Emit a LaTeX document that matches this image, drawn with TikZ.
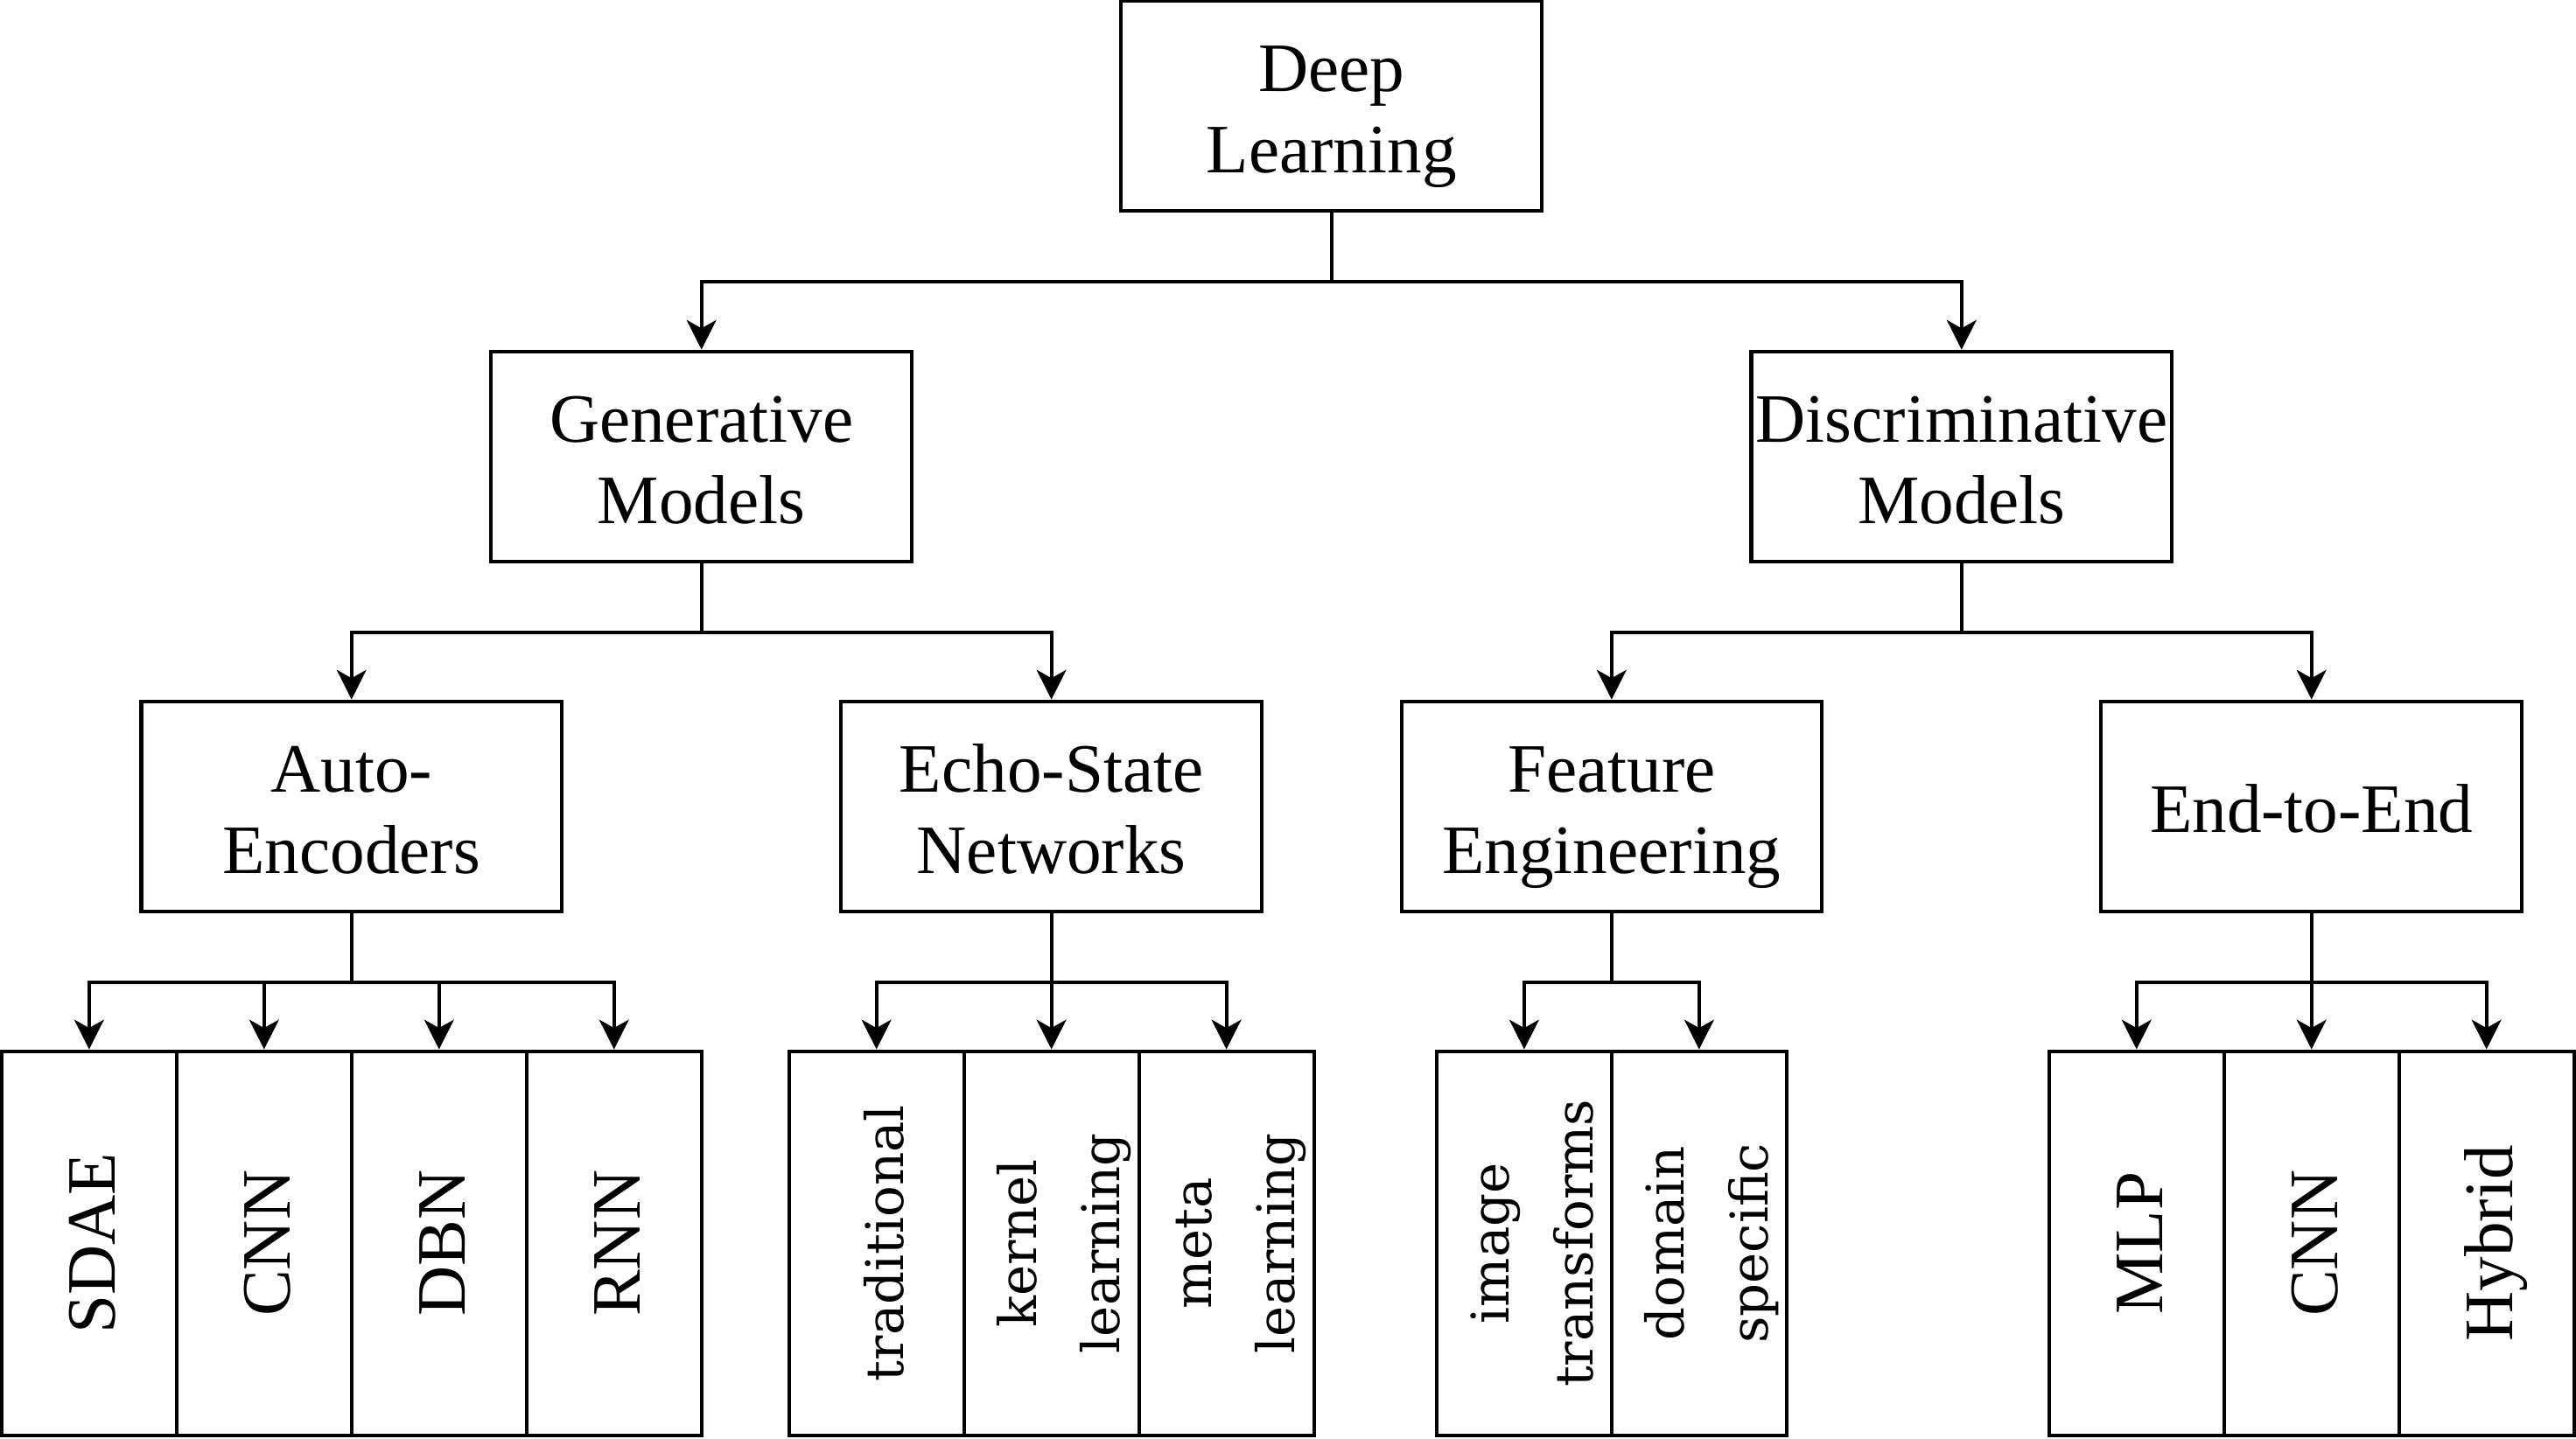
\documentclass[tikz,border=0pt]{standalone}
\usepackage{fontspec}
\setmainfont{Liberation Serif}
\newfontfamily\leaffont{DejaVu Serif}
\usepackage{tikz}
\usetikzlibrary{arrows.meta}

\newcommand{\vlabel}[1]{\makebox[0pt]{\hspace*{3.4pt}\rotatebox{90}{\begin{tabular}{@{}c@{}}#1\end{tabular}}}}

\begin{document}
\begin{tikzpicture}[
    x=1cm, y=1cm,
    box/.style={draw, line width=0.62pt, minimum width=2.56cm, minimum height=1.28cm, inner sep=0pt, align=center, text height=9.1pt, text depth=0pt, font=\fontsize{12}{14.2}\selectfont},
    two/.style={box, text height=23.3pt},
    leaf/.style={draw, line width=0.62pt, minimum width=1.065cm, minimum height=2.34cm, inner sep=0pt, font=\fontsize{12}{14.2}\selectfont},
    wleaf/.style={leaf, font=\leaffont\fontsize{9}{14.5}\selectfont},
    arr/.style={-{Stealth[length=0.18cm, width=0.18cm, inset=0.05cm]}, line width=0.62pt}
  ]
  \useasboundingbox (0,0) rectangle (15.68,8.76);

  \node[two] (dl) at (8.105,8.115) {Deep\\Learning};

  \node[two] (gen) at (4.27,5.98) {Generative\\Models};
  \node[two] (disc) at (11.94,5.98) {Discriminative\\Models};

  \node[two] (ae) at (2.14,3.85) {Auto-\\Encoders};
  \node[two] (esn) at (6.40,3.85) {Echo-State\\Networks};
  \node[two] (fe) at (9.81,3.85) {Feature\\Engineering};
  \node[box] (e2e) at (14.07,3.85) {End-to-End};

  % leaves
  \node[leaf] (sdae) at (0.5425,1.19) {\vlabel{SDAE}};
  \node[leaf] (cnna) at (1.6075,1.19) {\vlabel{CNN}};
  \node[leaf] (dbn) at (2.6725,1.19) {\vlabel{DBN}};
  \node[leaf] (rnn) at (3.7375,1.19) {\vlabel{RNN}};
  \node[wleaf] (trad) at (5.335,1.19) {\vlabel{traditional}};
  \node[wleaf] (kern) at (6.40,1.19) {\vlabel{kernel\\learning}};
  \node[wleaf] (meta) at (7.465,1.19) {\vlabel{meta\\learning}};
  \node[wleaf] (img) at (9.2775,1.19) {\vlabel{image\\transforms}};
  \node[wleaf] (dom) at (10.3425,1.19) {\vlabel{domain\\specific}};
  \node[leaf] (mlp) at (13.005,1.19) {\vlabel{MLP}};
  \node[leaf] (cnnb) at (14.07,1.19) {\vlabel{CNN}};
  \node[leaf] (hyb) at (15.135,1.19) {\vlabel{Hybrid}};

  \draw[arr] (dl.south) -- ++(0,-0.42) -| (gen.north);
  \draw[arr] (dl.south) -- ++(0,-0.42) -| (disc.north);
  \draw[arr] (gen.south) -- ++(0,-0.42) -| (ae.north);
  \draw[arr] (gen.south) -- ++(0,-0.42) -| (esn.north);
  \draw[arr] (disc.south) -- ++(0,-0.42) -| (fe.north);
  \draw[arr] (disc.south) -- ++(0,-0.42) -| (e2e.north);

  \draw[arr] (ae.south) -- ++(0,-0.42) -| (sdae.north);
  \draw[arr] (ae.south) -- ++(0,-0.42) -| (cnna.north);
  \draw[arr] (ae.south) -- ++(0,-0.42) -| (dbn.north);
  \draw[arr] (ae.south) -- ++(0,-0.42) -| (rnn.north);
  \draw[arr] (esn.south) -- ++(0,-0.42) -| (trad.north);
  \draw[arr] (esn.south) -- (kern.north);
  \draw[arr] (esn.south) -- ++(0,-0.42) -| (meta.north);
  \draw[arr] (fe.south) -- ++(0,-0.42) -| (img.north);
  \draw[arr] (fe.south) -- ++(0,-0.42) -| (dom.north);
  \draw[arr] (e2e.south) -- ++(0,-0.42) -| (mlp.north);
  \draw[arr] (e2e.south) -- (cnnb.north);
  \draw[arr] (e2e.south) -- ++(0,-0.42) -| (hyb.north);
\end{tikzpicture}
\end{document}
